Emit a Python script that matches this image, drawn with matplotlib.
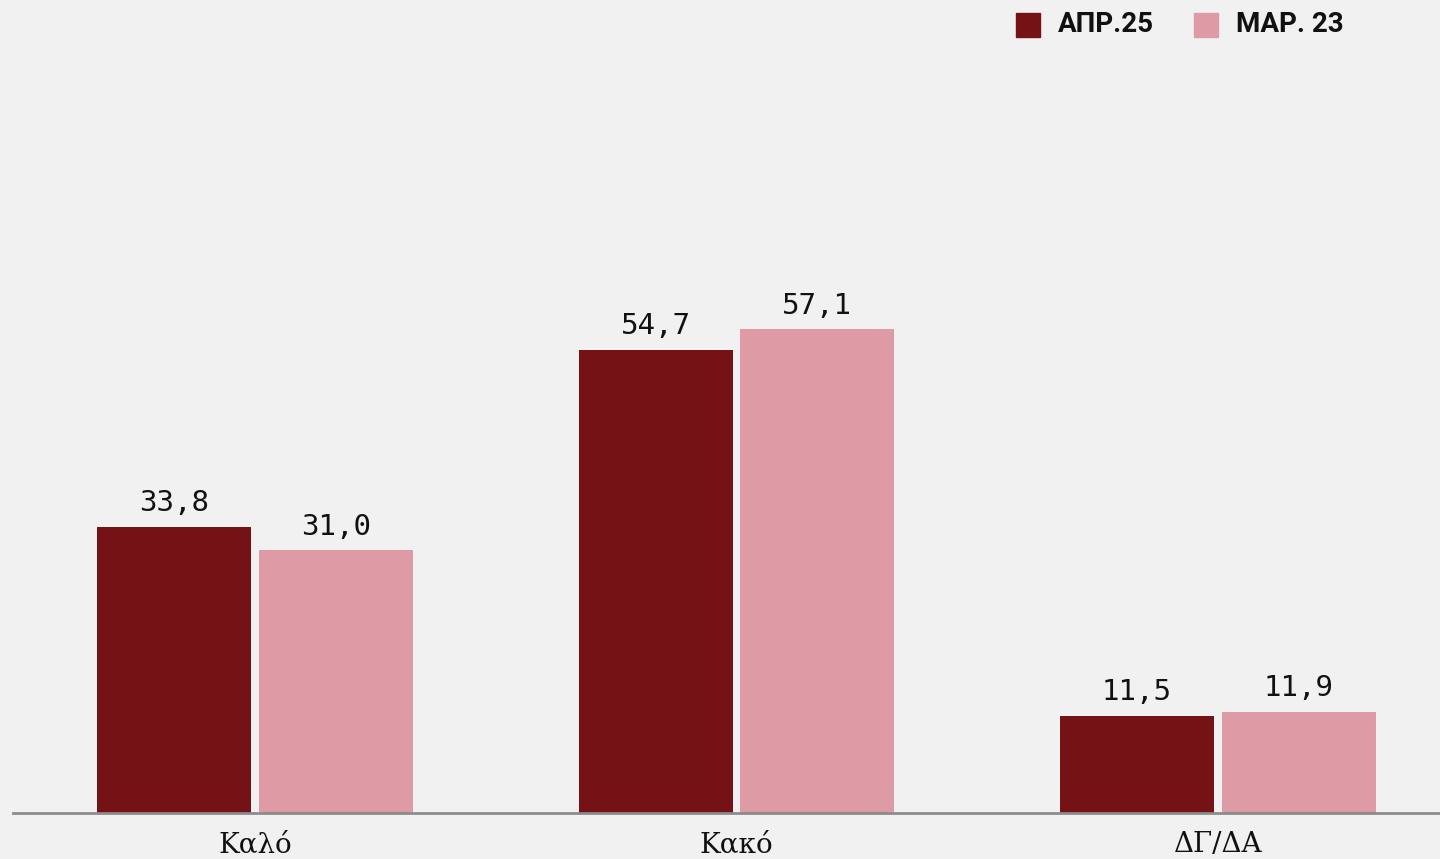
import matplotlib
matplotlib.use("Agg")
import matplotlib.pyplot as plt
import numpy as np
from matplotlib.patches import Rectangle

# δεδομένα
katigories = ["Καλό", "Κακό", "ΔΓ/ΔΑ"]
apr25 = [33.8, 54.7, 11.5]
mar23 = [31.0, 57.1, 11.9]
onomata = ["ΑΠΡ.25", "ΜΑΡ. 23"]

skouro = "#741216"
anoixto = "#de9ba6"
fonto = "#f1f1f1"

W, H = 1440, 859
fig = plt.figure(figsize=(W / 100, H / 100), dpi=100)
fig.patch.set_facecolor(fonto)

ax = fig.add_axes([13 / W, 46 / H, (W - 13) / W, 813 / H])
ax.set_facecolor("none")

x = np.arange(len(katigories))
platos = 0.32
b1 = ax.bar(x - 0.168, apr25, platos, color=skouro)
b2 = ax.bar(x + 0.168, mar23, platos, color=anoixto)

for bars, vals in [(b1, apr25), (b2, mar23)]:
    for r, v in zip(bars, vals):
        ax.annotate(f"{v:.1f}".replace(".", ","),
                    (r.get_x() + r.get_width() / 2, v),
                    xytext=(0, 7), textcoords="offset points",
                    ha="center", va="bottom",
                    fontsize=21, family="DejaVu Sans Mono", color="#111111")

ax.set_xlim(-0.503, 2.4615)
ax.set_ylim(0, 96)
ax.set_yticks([])
ax.set_xticks(x)
ax.set_xticklabels(katigories, family="DejaVu Serif", fontsize=20, color="#111111")
ax.tick_params(axis="x", length=0, pad=13)
for s in ["top", "right", "left"]:
    ax.spines[s].set_visible(False)
ax.spines["bottom"].set_color("#8c8c8c")
ax.spines["bottom"].set_linewidth(2)

# υπόμνημα πάνω δεξιά
for (x0, lbl, c) in [(1016, onomata[0], skouro), (1194, onomata[1], anoixto)]:
    fig.add_artist(Rectangle((x0 / W, 1 - 37 / H), 24 / W, 24 / H,
                             transform=fig.transFigure, color=c))
    fig.text((x0 + 42) / W, 1 - 25 / H, lbl, fontsize=20, family="Roboto",
             weight="bold", color="#111111", va="center", ha="left")

fig.savefig("out.png", dpi=100, facecolor=fonto)
